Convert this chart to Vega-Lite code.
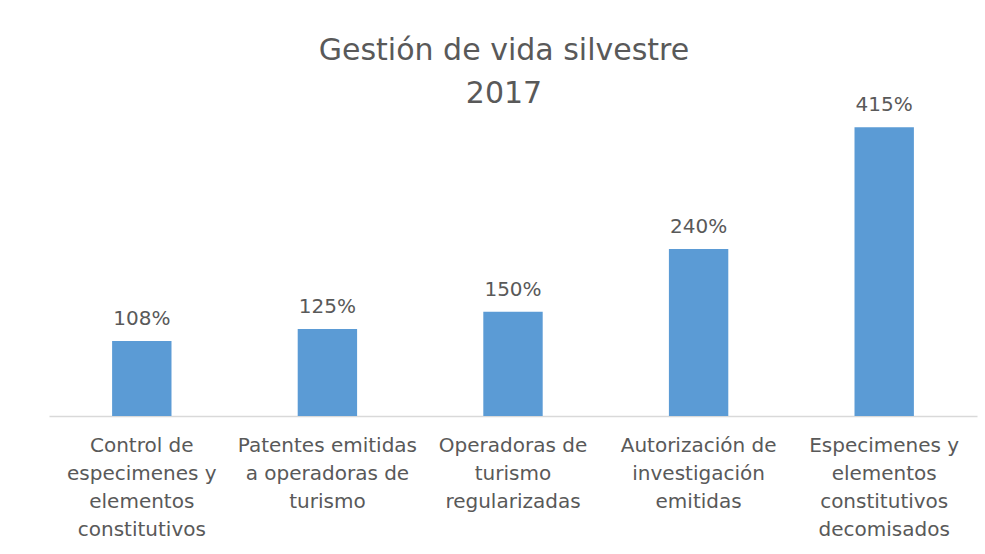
{
  "$schema": "https://vega.github.io/schema/vega-lite/v6.json",
  "autosize": "none",
  "width": 928,
  "height": 313,
  "padding": {"left": 49, "top": 103, "right": 8, "bottom": 138},
  "background": "white",
  "title": {
    "text": ["Gestión de vida silvestre", "2017"],
    "font": "DejaVu Sans",
    "fontSize": 30,
    "fontWeight": "normal",
    "color": "#595959",
    "anchor": "middle",
    "lineHeight": 43,
    "dx": -9,
    "offset": -14
  },
  "data": {
    "values": [
      {"categoria": "Control de\nespecimenes y\nelementos\nconstitutivos", "valor": 1.08},
      {"categoria": "Patentes emitidas\na operadoras de\nturismo", "valor": 1.25},
      {"categoria": "Operadoras de\nturismo\nregularizadas", "valor": 1.50},
      {"categoria": "Autorización de\ninvestigación\nemitidas", "valor": 2.40},
      {"categoria": "Especimenes y\nelementos\nconstitutivos\ndecomisados", "valor": 4.15}
    ]
  },
  "config": {"view": {"stroke": null}},
  "encoding": {
    "x": {
      "field": "categoria",
      "type": "nominal",
      "sort": null,
      "scale": {"paddingInner": 0.68, "paddingOuter": 0.34},
      "axis": {
        "title": null,
        "labelAngle": 0,
        "labelExpr": "split(datum.value, '\\n')",
        "labelFont": "DejaVu Sans",
        "labelFontSize": 20,
        "labelColor": "#595959",
        "labelLineHeight": 28,
        "labelPadding": 19,
        "labelLimit": 300,
        "ticks": false,
        "domainColor": "#d9d9d9",
        "domainWidth": 1.3
      }
    },
    "y": {
      "field": "valor",
      "type": "quantitative",
      "scale": {"domain": [0, 4.5]},
      "axis": null
    }
  },
  "layer": [
    {"mark": {"type": "bar", "color": "#5B9BD5"}},
    {
      "mark": {"type": "text", "dy": -16, "baseline": "alphabetic", "font": "DejaVu Sans", "fontSize": 20, "color": "#595959"},
      "encoding": {"text": {"field": "valor", "type": "quantitative", "format": ".0%"}}
    }
  ]
}
